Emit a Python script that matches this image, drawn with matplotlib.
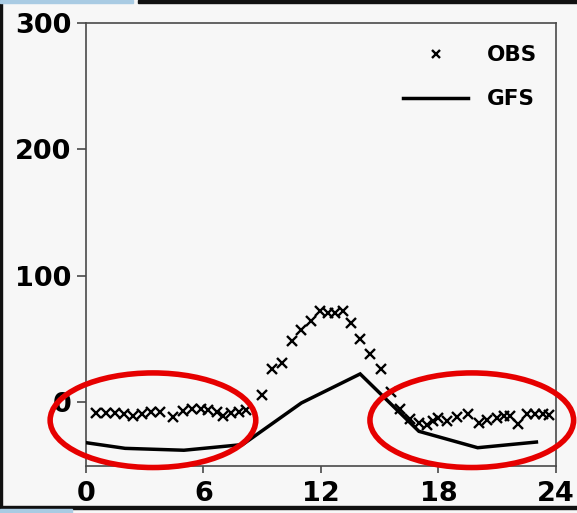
import numpy as np
import matplotlib
matplotlib.use("Agg")
import matplotlib.pyplot as plt
from matplotlib.patches import Ellipse, Rectangle

# ---------------------------------------------------------------------------
# Data
# ---------------------------------------------------------------------------
obs_hour = [0.5, 1.0, 1.5, 1.95, 2.4, 2.85, 3.3, 3.8,
            4.45, 4.95, 5.4, 5.85, 6.25, 6.7, 7.0, 7.4, 7.8, 8.15,
            9.0, 9.5, 10.0, 10.5, 11.0, 11.5, 11.95, 12.35, 12.7, 13.1,
            13.55, 14.0, 14.5, 15.05, 15.55, 16.05, 16.55, 17.0, 17.4, 17.7,
            17.95, 18.45, 18.95, 19.5, 20.05, 20.5, 21.0, 21.35, 21.65, 22.05,
            22.5, 22.95, 23.35, 23.65]
obs_val = [-9, -9, -9, -10, -11.5, -9.5, -8.5, -8,
           -12.5, -7.5, -6, -6, -6.5, -8, -11.5, -9, -8, -6.5,
           5, 26, 31, 48, 57, 64, 72, 70.5, 70.5, 72,
           62, 50, 37.5, 26, 8, -6, -14, -17, -18.5, -15.5,
           -13, -15, -12.5, -10, -16.8, -14.7, -13.3, -11.5, -11.5, -17.3,
           -9.7, -9.7, -9.7, -10.7]

gfs_hour = [0, 2, 5, 8, 11, 14, 17, 20, 23]
gfs_val = [-32.5, -37, -38.5, -34, -1, 22, -23.5, -36.5, -32]

x_ticks = [0, 6, 12, 18, 24]
y_ticks = [0, 100, 200, 300]

# ---------------------------------------------------------------------------
# Figure
# ---------------------------------------------------------------------------
BG = "#f7f7f7"
RED = "#e60000"

fig = plt.figure(figsize=(5.77, 5.13), dpi=100)
fig.patch.set_facecolor(BG)
ax = fig.add_axes([0.149, 0.0916, 0.8146, 0.863])
ax.set_facecolor(BG)

ax.plot(obs_hour, obs_val, linestyle="none", marker="x", color="black",
        markersize=7.5, markeredgewidth=1.7, label="OBS", zorder=4)
ax.plot(gfs_hour, gfs_val, color="black", linewidth=2.5, label="GFS",
        solid_joinstyle="miter", zorder=3)

ax.set_xlim(0, 24)
ax.set_ylim(-51, 300)
ax.set_xticks(x_ticks)
ax.set_yticks(y_ticks)

for s in ax.spines.values():
    s.set_color("#4a4a4a")
    s.set_linewidth(1.2)

ax.tick_params(axis="both", direction="out", color="#4a4a4a", width=1.2,
               labelsize=19.5, labelcolor="black")
ax.tick_params(axis="y", length=6.5, pad=4)
ax.tick_params(axis="x", length=5, pad=6)
for lab in ax.get_xticklabels() + ax.get_yticklabels():
    lab.set_fontweight("bold")

leg = ax.legend(loc="upper right", frameon=False,
                prop={"weight": "bold", "size": 15.5},
                handlelength=3.05, handletextpad=0.85, labelspacing=1.13,
                markerscale=0.85, borderaxespad=0.55,
                bbox_to_anchor=(1.003, 0.997))

# red highlight ellipses (annotation)
for cx, cy, w, h in [(3.42, -14.7, 10.5, 75), (19.7, -14.7, 10.4, 75)]:
    ax.add_patch(Ellipse((cx, cy), w, h, fill=False, edgecolor=RED,
                         linewidth=4.0, clip_on=False, zorder=6))

# screenshot frame remnants
fig.add_artist(Rectangle((0, 0), 0.004, 1, transform=fig.transFigure,
                         color="#111111", zorder=10))
fig.add_artist(Rectangle((0.24, 0.995), 0.76, 0.005, transform=fig.transFigure,
                         color="#111111", zorder=10))
fig.add_artist(Rectangle((0, 0.995), 0.23, 0.005, transform=fig.transFigure,
                         color="#a9cbe3", zorder=10))
fig.add_artist(Rectangle((0, 0.0078), 1, 0.0055, transform=fig.transFigure,
                         color="#111111", zorder=10))
fig.add_artist(Rectangle((0, 0), 0.125, 0.0078, transform=fig.transFigure,
                         color="#a9cbe3", zorder=10))

fig.savefig("out.png", dpi=100, facecolor=BG)
